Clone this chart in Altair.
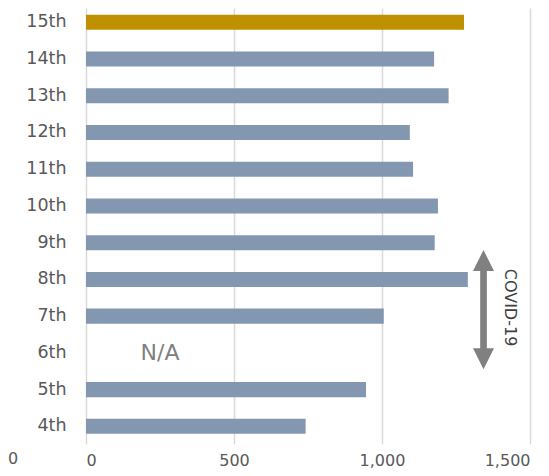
import altair as alt
import pandas as pd

# ---- data ----
editions = ["4th", "5th", "6th", "7th", "8th", "9th", "10th", "11th", "12th", "13th", "14th", "15th"]
visitors = [742, 946, None, 1006, 1290, 1178, 1189, 1105, 1094, 1225, 1176, 1277]
is_latest = [False, False, False, False, False, False, False, False, False, False, False, True]
x_ticks = [0, 500, 1000, 1500]

na_label = ["N/A"]
na_edition = ["6th"]
na_x = [250]

covid_label = ["COVID-19"]
covid_arrow_x = [1343]
covid_text_x = [1433]

stray_label = ["0"]

FONT = "DejaVu Sans"
W, H = 444, 436

df = pd.DataFrame({
    "edition": editions,
    "value": visitors,
    "group": ["latest" if f else "past" for f in is_latest],
})
order = editions[::-1]

x_scale = alt.Scale(domain=[0, 1500], nice=False, zero=True)
y_scale = alt.Scale(domain=order, paddingInner=0.59, paddingOuter=0.23, align=0.4)

bars = alt.Chart(df).mark_bar().encode(
    x=alt.X("value:Q", scale=x_scale,
            axis=alt.Axis(values=x_ticks, format=",.0f", grid=True, gridColor="#D9D9D9",
                          gridWidth=1.5, domain=False, ticks=False, labelColor="#595959",
                          labelFontSize=16, labelFont=FONT, labelPadding=8, labelFlush=11,
                          title=None)),
    y=alt.Y("edition:N", scale=y_scale,
            axis=alt.Axis(domain=False, ticks=False, grid=False, labelPadding=20,
                          labelFontSize=17.5, labelFont=FONT, labelColor="#595959", title=None)),
    color=alt.Color("group:N", scale=alt.Scale(domain=["past", "latest"],
                                               range=["#8497B0", "#BF9000"]), legend=None),
)

na_df = pd.DataFrame({"label": na_label, "edition": na_edition, "x": na_x})
na_text = alt.Chart(na_df).mark_text(font=FONT, fontSize=22, color="#808080",
                                     align="center", baseline="middle").encode(
    x=alt.X("x:Q", scale=x_scale), y=alt.Y("edition:N", scale=y_scale), text="label:N")

arrow_df = pd.DataFrame({"x": covid_arrow_x})
shaft = alt.Chart(arrow_df).mark_rule(strokeWidth=6.7, color="#808080").encode(
    x=alt.X("x:Q", scale=x_scale), y=alt.value(262), y2=alt.value(342))
head_up = alt.Chart(arrow_df).mark_point(shape="M0,-1L1,1L-1,1Z", size=441, filled=True,
                                         opacity=1, color="#808080").encode(
    x=alt.X("x:Q", scale=x_scale), y=alt.value(252.5))
head_down = alt.Chart(arrow_df).mark_point(shape="M0,1L1,-1L-1,-1Z", size=441, filled=True,
                                           opacity=1, color="#808080").encode(
    x=alt.X("x:Q", scale=x_scale), y=alt.value(350.8))

covid_df = pd.DataFrame({"label": covid_label, "x": covid_text_x})
covid_text = alt.Chart(covid_df).mark_text(font=FONT, fontSize=16, color="#404040", angle=90,
                                           align="center", baseline="middle").encode(
    x=alt.X("x:Q", scale=x_scale), y=alt.value(299.5), text="label:N")

stray_df = pd.DataFrame({"label": stray_label})
stray = alt.Chart(stray_df).mark_text(font=FONT, fontSize=16, color="#595959",
                                      align="left", baseline="middle").encode(
    x=alt.value(-78), y=alt.value(451), text="label:N")

chart = alt.layer(bars, na_text, shaft, head_up, head_down, covid_text, stray).properties(
    width=W, height=H,
    autosize=alt.AutoSizeParams(type="none"),
    padding={"left": 78, "top": 0, "right": 11, "bottom": 24},
    background="white",
).configure_view(stroke=None)

chart.save("out.html", embed_options={"renderer": "svg", "actions": False})
